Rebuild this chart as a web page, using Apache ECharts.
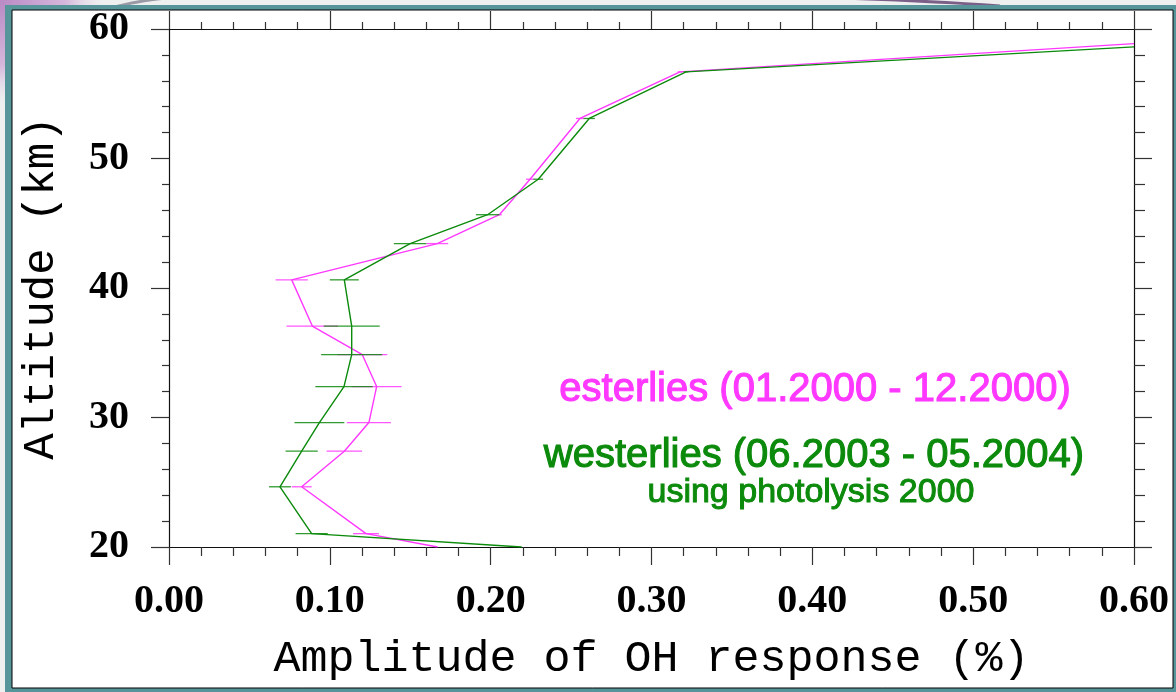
<!DOCTYPE html>
<html>
<head>
<meta charset="utf-8">
<script src="https://cdn.jsdelivr.net/npm/echarts@6/dist/echarts.min.js"></script>
<style>
html,body{margin:0;padding:0;background:#eef0f0;}
#chart{width:1176px;height:692px;}
</style>
</head>
<body>
<div id="chart"></div>
<script>
// ---- data ----
var esterliesAlt = [20, 21.03, 24.65, 27.40, 29.61, 32.39, 34.85, 37.06, 40.63, 43.43, 45.66, 48.40, 53.09, 56.69, 58.87];
var esterliesX   = [0.1670, 0.1225, 0.0825, 0.1090, 0.1243, 0.1291, 0.1202, 0.0891, 0.0763, 0.1668, 0.2054, 0.2245, 0.2555, 0.3177, 0.60];
var esterliesErr = [0, 0.0080, 0.0062, 0.0110, 0.0137, 0.0155, 0.0155, 0.0160, 0.0100, 0.0068, 0.0015, 0.0025, 0.0025, 0.0015, 0];

var westerliesAlt = [20, 21.03, 24.65, 27.40, 29.61, 32.39, 34.85, 37.06, 40.63, 43.43, 45.66, 48.40, 53.09, 56.69, 58.62];
var westerliesX   = [0.2193, 0.0887, 0.0690, 0.0825, 0.0935, 0.1088, 0.1136, 0.1136, 0.1090, 0.1499, 0.1981, 0.2296, 0.2613, 0.3215, 0.60];
var westerliesErr = [0, 0.0100, 0.0068, 0.0100, 0.0155, 0.0178, 0.0190, 0.0174, 0.0090, 0.0101, 0.0073, 0.0030, 0.0035, 0.0015, 0];

var legendLines = ['esterlies (01.2000 - 12.2000)', 'westerlies (06.2003 - 05.2004)', 'using photolysis 2000'];
var xTitle = 'Amplitude of OH response (%)';
var yTitle = 'Altitude (km)';

var MAGENTA = '#ff38ff';
var GREEN = '#0b8a0b';

function pairs(xs, ys) { return xs.map(function (x, i) { return [x, ys[i]]; }); }
function errData(xs, ys, es) {
  var out = [];
  for (var i = 0; i < xs.length; i++) if (es[i] > 0) out.push([xs[i], ys[i], es[i]]);
  return out;
}
function errRender(color) {
  return function (params, api) {
    var x = api.value(0), y = api.value(1), e = api.value(2);
    var p1 = api.coord([x - e, y]), p2 = api.coord([x + e, y]);
    return { type: 'line', shape: { x1: p1[0], y1: p1[1], x2: p2[0], y2: p2[1] },
             style: { stroke: color, lineWidth: 1.3, opacity: 0.85 } };
  };
}

var tickFont = { fontFamily: 'Liberation Serif', fontWeight: 'bold', fontSize: 40, color: '#000' };

function axisBase(extra) {
  var a = {
    type: 'value',
    axisLine: { show: true, onZero: false, lineStyle: { color: '#111', width: 1.2 } },
    axisTick: { show: true, inside: false, length: 18, lineStyle: { color: '#333', width: 1.2 } },
    minorTick: { show: true, splitNumber: 5, length: 8, lineStyle: { color: '#333', width: 1.2 } },
    splitLine: { show: false },
    minorSplitLine: { show: false }
  };
  for (var k in extra) a[k] = extra[k];
  return a;
}

var chart = echarts.init(document.getElementById('chart'), null, { renderer: 'canvas' });

var option = {
  backgroundColor: '#eef0f0',
  animation: false,
  grid: { left: 169, right: 42, top: 29, bottom: 145, containLabel: false },
  xAxis: [
    axisBase({
      position: 'bottom', min: 0, max: 0.6, interval: 0.1,
      minorTick: { show: true, splitNumber: 5, length: 9, lineStyle: { color: '#333', width: 1.2 } },
      axisLabel: Object.assign({ margin: 35, formatter: function (v) { return v.toFixed(2); } }, tickFont),
      name: xTitle, nameLocation: 'middle', nameGap: 90,
      nameTextStyle: { fontFamily: 'Liberation Mono', fontSize: 45, color: '#000' }
    }),
    axisBase({
      position: 'top', min: 0, max: 0.6, interval: 0.1,
      minorTick: { show: true, splitNumber: 5, length: 7, lineStyle: { color: '#333', width: 1.2 } },
      axisLabel: { show: false }
    })
  ],
  yAxis: [
    axisBase({
      position: 'left', min: 20, max: 60, interval: 10,
      minorTick: { show: true, splitNumber: 5, length: 7, lineStyle: { color: '#333', width: 1.2 } },
      axisLabel: Object.assign({ margin: 40 }, tickFont),
      name: yTitle, nameLocation: 'middle', nameGap: 106, nameRotate: 90,
      nameTextStyle: { fontFamily: 'Liberation Mono', fontSize: 44, color: '#000' }
    }),
    axisBase({
      position: 'right', min: 20, max: 60, interval: 10,
      minorTick: { show: true, splitNumber: 5, length: 11, lineStyle: { color: '#333', width: 1.2 } },
      axisLabel: { show: false }
    })
  ],
  graphic: [
    { type: 'rect', z: -100, silent: true, shape: { x: 0, y: 0, width: 1176, height: 692 }, style: { fill: '#eef0f0' } },
    { type: 'rect', z: -99, silent: true, shape: { x: 0, y: 0, width: 110, height: 150 },
      style: { fill: { type: 'radial', x: 0, y: 0, r: 1, colorStops: [
        { offset: 0, color: '#b98ac4' }, { offset: 0.6, color: '#d6b8dc' }, { offset: 1, color: 'rgba(238,240,240,0)' } ] } } },
    { type: 'bezierCurve', z: -98, silent: true, shape: { x1: 112, y1: 8, x2: 165, y2: -2, cpx1: 130, cpy1: 2, cpx2: 150, cpy2: 0 },
      style: { stroke: '#9a9aa6', lineWidth: 3, fill: null } },
    { type: 'bezierCurve', z: -98, silent: true, shape: { x1: 840, y1: -2, x2: 1000, y2: 6, cpx1: 900, cpy1: 0, cpx2: 960, cpy2: 3 },
      style: { stroke: '#7a6088', lineWidth: 3, fill: null } },
    { type: 'rect', z: -97, silent: true, shape: { x: 5, y: 5, width: 1180, height: 700 }, style: { fill: '#56969b' } },
    { type: 'rect', z: -96, silent: true, shape: { x: 12, y: 10, width: 1161, height: 678 },
      style: { fill: '#ffffff', stroke: '#000', lineWidth: 1 } },
    { type: 'text', z: 50, silent: true, x: 815, y: 390,
      style: { text: legendLines[0], fill: MAGENTA, stroke: MAGENTA, lineWidth: 1.1, font: '40px "Liberation Sans"', align: 'center', verticalAlign: 'middle' } },
    { type: 'text', z: 50, silent: true, x: 814, y: 456,
      style: { text: legendLines[1], fill: GREEN, stroke: GREEN, lineWidth: 1.1, font: '40px "Liberation Sans"', align: 'center', verticalAlign: 'middle' } },
    { type: 'text', z: 50, silent: true, x: 811, y: 493,
      style: { text: legendLines[2], fill: GREEN, stroke: GREEN, lineWidth: 1, font: '34px "Liberation Sans"', align: 'center', verticalAlign: 'middle' } }
  ],
  series: [
    { name: 'esterlies', type: 'line', xAxisIndex: 0, yAxisIndex: 0, data: pairs(esterliesX, esterliesAlt),
      showSymbol: false, symbol: 'none', clip: true, lineStyle: { color: MAGENTA, width: 1.4 }, z: 3 },
    { name: 'westerlies', type: 'line', xAxisIndex: 0, yAxisIndex: 0, data: pairs(westerliesX, westerliesAlt),
      showSymbol: false, symbol: 'none', clip: true, lineStyle: { color: GREEN, width: 1.4 }, z: 4 },
    { name: 'esterliesErr', type: 'custom', xAxisIndex: 0, yAxisIndex: 0, data: errData(esterliesX, esterliesAlt, esterliesErr),
      renderItem: errRender(MAGENTA), z: 3 },
    { name: 'westerliesErr', type: 'custom', xAxisIndex: 0, yAxisIndex: 0, data: errData(westerliesX, westerliesAlt, westerliesErr),
      renderItem: errRender(GREEN), z: 4 }
  ]
};
chart.setOption(option);
</script>
</body>
</html>
